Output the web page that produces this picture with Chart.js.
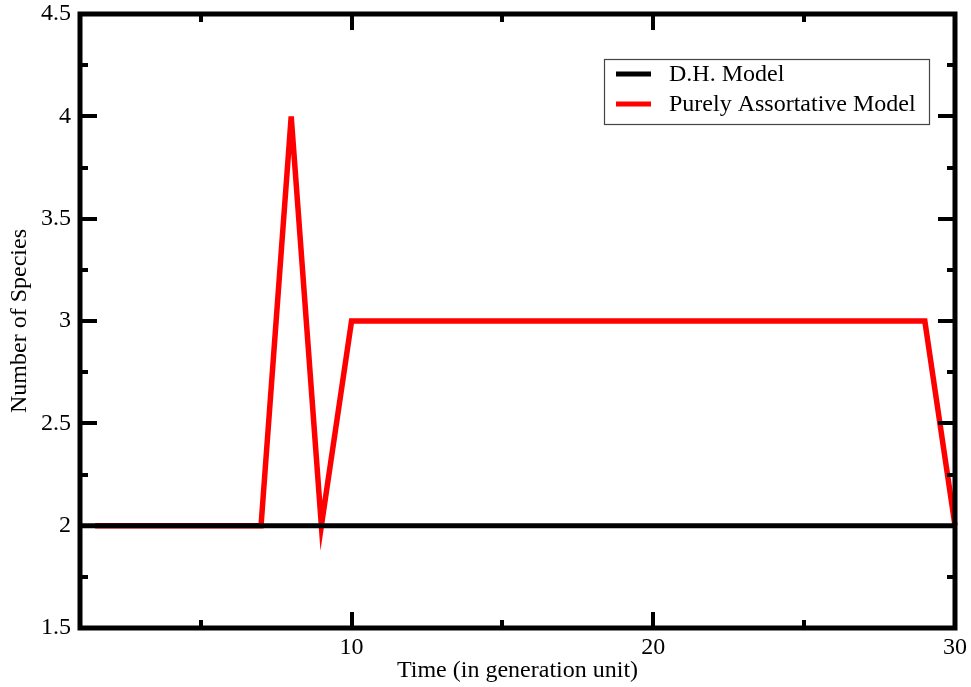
<!DOCTYPE html>
<html>
<head>
<meta charset="utf-8">
<script src="https://cdn.jsdelivr.net/npm/chart.js@4/dist/chart.umd.min.js"></script>
<style>
html,body{margin:0;padding:0;background:#fff;}
#wrap{width:971px;height:687px;position:relative;}
</style>
</head>
<body>
<div id="wrap"><canvas id="c" width="971" height="687"></canvas></div>
<script>
// ---- data ----
const dhX = [1, 30];
const dhY = [2, 2];
const paX = [1.5, 7, 8, 9, 10, 29, 30];
const paY = [2, 2, 4, 2, 3, 3, 2];
const seriesNames = ["D.H. Model", "Purely Assortative Model"];
const xMajorTicks = [10, 20, 30];
const xMinorTicks = [5, 15, 25];
const yMajorTicks = [1.5, 2, 2.5, 3, 3.5, 4, 4.5];
const yMinorTicks = [1.75, 2.25, 2.75, 3.25, 3.75, 4.25];
const xTitle = "Time (in generation unit)";
const yTitle = "Number of Species";

const FONT = "'Liberation Serif', 'Times New Roman', serif";
const FS = 24;

const toPts = (xs, ys) => xs.map((x, i) => ({x: x, y: ys[i]}));

const framePlugin = {
  id: 'frame',
  afterDatasetsDraw(chart) {
    const ctx = chart.ctx, a = chart.chartArea;
    const xs = chart.scales.x, ys = chart.scales.y;
    ctx.save();
    ctx.strokeStyle = '#000';
    ctx.lineCap = 'butt';
    ctx.lineWidth = 4;
    const xt = (vals, len) => vals.forEach(v => {
      const p = Math.round(xs.getPixelForValue(v));
      ctx.beginPath(); ctx.moveTo(p, a.bottom); ctx.lineTo(p, a.bottom - len); ctx.stroke();
      ctx.beginPath(); ctx.moveTo(p, a.top); ctx.lineTo(p, a.top + len); ctx.stroke();
    });
    const yt = (vals, len) => vals.forEach(v => {
      const p = Math.round(ys.getPixelForValue(v));
      ctx.beginPath(); ctx.moveTo(a.left, p); ctx.lineTo(a.left + len, p); ctx.stroke();
      ctx.beginPath(); ctx.moveTo(a.right, p); ctx.lineTo(a.right - len, p); ctx.stroke();
    });
    xt(xMajorTicks, 16); xt(xMinorTicks, 8);
    yt(yMajorTicks, 17); yt(yMinorTicks, 8);
    ctx.lineWidth = 5;
    ctx.lineJoin = 'miter';
    ctx.strokeRect(a.left, a.top, a.right - a.left, a.bottom - a.top);
    // legend
    const lx = 604, ly = 59, lw = 325, lh = 65;
    ctx.fillStyle = '#fff';
    ctx.fillRect(lx, ly, lw, lh);
    ctx.lineWidth = 1.2;
    ctx.strokeStyle = '#444';
    ctx.strokeRect(lx + 0.5, ly + 0.5, lw, lh);
    ctx.font = FS + "px " + FONT;
    ctx.textBaseline = 'middle';
    ctx.textAlign = 'left';
    chart.data.datasets.forEach((ds, i) => {
      const yy = 74 + i * 30;
      ctx.strokeStyle = ds.borderColor;
      ctx.lineWidth = 5;
      ctx.beginPath(); ctx.moveTo(616, yy); ctx.lineTo(651, yy); ctx.stroke();
      ctx.fillStyle = '#000';
      ctx.fillText(ds.label, 669, yy + 1);
    });
    ctx.restore();
  }
};

new Chart(document.getElementById('c'), {
  type: 'line',
  data: {
    datasets: [
      {label: seriesNames[0], data: toPts(dhX, dhY), borderColor: '#000000', borderWidth: 5, pointRadius: 0, tension: 0, clip: false},
      {label: seriesNames[1], data: toPts(paX, paY), borderColor: '#ff0000', borderWidth: 5.5, pointRadius: 0, tension: 0, clip: false, borderJoinStyle: 'miter'}
    ]
  },
  options: {
    responsive: false,
    animation: false,
    events: [],
    layout: {padding: {left: 0, right: 16, top: 14, bottom: 0}},
    plugins: {legend: {display: false}, tooltip: {enabled: false}},
    scales: {
      x: {
        type: 'linear', min: 1, max: 30,
        afterFit: s => { s.height = 59; s.paddingLeft = 0; s.paddingRight = 0; },
        afterBuildTicks: s => { s.ticks = xMajorTicks.map(v => ({value: v})); },
        grid: {display: false, drawTicks: false},
        border: {display: false},
        ticks: {color: '#000', padding: 5, font: {family: FONT, size: FS}, maxRotation: 0, autoSkip: false, callback: v => String(v)},
        title: {display: true, text: xTitle, color: '#000', font: {family: FONT, size: FS}, padding: {top: 0, bottom: 2}}
      },
      y: {
        type: 'linear', min: 1.5, max: 4.5,
        afterFit: s => { s.width = 80; s.paddingTop = 0; s.paddingBottom = 0; },
        afterBuildTicks: s => { s.ticks = yMajorTicks.map(v => ({value: v})); },
        grid: {display: false, drawTicks: false},
        border: {display: false},
        ticks: {color: '#000', padding: 9, font: {family: FONT, size: FS}, autoSkip: false, callback: v => String(v)},
        title: {display: true, text: yTitle, color: '#000', font: {family: FONT, size: FS}, padding: {top: 5, bottom: 0}}
      }
    }
  },
  plugins: [framePlugin]
});
</script>
</body>
</html>
